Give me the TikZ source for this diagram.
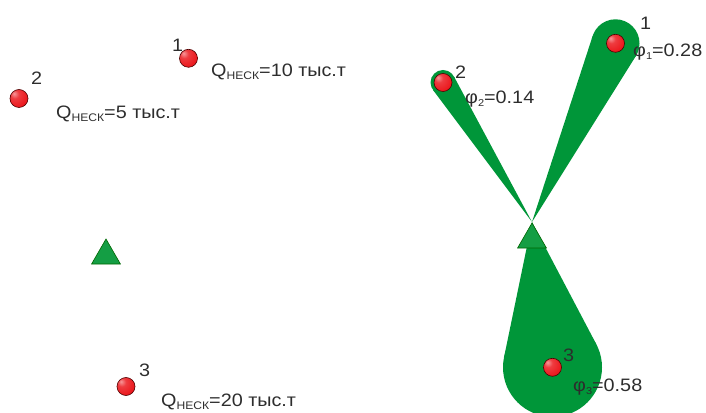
\documentclass[tikz,border=0pt]{standalone}
\usepackage{fontspec}
\setmainfont{Liberation Sans}[FakeStretch=1.1]
\usetikzlibrary{calc,shapes.geometric}

\definecolor{lobegreen}{RGB}{0,150,57}
\definecolor{trigreen}{RGB}{20,158,68}
\definecolor{ballred}{RGB}{235,25,30}
\definecolor{txtgray}{RGB}{45,45,45}

\pgfdeclareradialshading{redball}{\pgfpoint{-14bp}{14bp}}{%
  color(0bp)=(white!55!ballred); color(12bp)=(ballred!85!white);
  color(32bp)=(ballred); color(55bp)=(ballred!75!black);
  color(80bp)=(ballred!55!black)}

% Подпись Q с индексом
\newcommand{\qnesk}{Q\raisebox{-3pt}{\fontsize{11}{11}\selectfont НЕСК}}
\newcommand{\phisub}[1]{φ\raisebox{-3pt}{\fontsize{10}{10}\selectfont #1}}

\tikzset{
  ball/.style={circle, inner sep=0pt, minimum size=18pt, shading=redball,
    draw=black!70!red, line width=0.6pt},
  station/.style={regular polygon, regular polygon sides=3, inner sep=0pt,
    minimum size=33.4pt, fill=trigreen, draw=black!60!green, line width=0.6pt},
  lobe/.style={circle, inner sep=0pt, outer sep=0pt, fill=lobegreen},
  lbl/.style={anchor=base west, inner sep=0pt, text=txtgray,
    font=\fontsize{18}{18}\selectfont}
}

\begin{document}
\begin{tikzpicture}[x=1pt, y=1pt]
    \useasboundingbox (0,0) rectangle (706,412);
    \clip (0,0) rectangle (706,412);

    % Левая схема: запасы
    \node[station] (st) at (106,156.3) {};
    \node[ball] (a1) at (188.5,353.7) {};
    \node[ball] (a2) at (19,313.5) {};
    \node[ball] (a3) at (126,25.5) {};
    \node[lbl] (na1) at (172,360.3) {1};
    \node[lbl] (na2) at (31,327) {2};
    \node[lbl] (na3) at (139,35.3) {3};
    \node[lbl] (qa1) at (211,335.3) {\qnesk=10 тыс.т};
    \node[lbl] (qa2) at (56,293.3) {\qnesk=5 тыс.т};
    \node[lbl] (qa3) at (161,5.3) {\qnesk=20 тыс.т};

    % Правая схема: лепестки
    \coordinate (apex) at (532,190);
    \node[lobe, minimum size=48pt] (c1) at (615.5,368.7) {};
    \node[lobe, minimum size=25pt] (c2) at (443,329.5) {};
    \node[lobe, minimum size=99pt] (c3) at (552.5,44.7) {};
    \foreach \c in {c1,c2,c3}
      \fill[lobegreen] (apex) -- (tangent cs:node=\c,point={(apex)},solution=1)
        -- (tangent cs:node=\c,point={(apex)},solution=2) -- cycle;

    \node[station] (sr) at (532,172.3) {};
    \node[ball] (b1) at (615.5,368.7) {};
    \node[ball] (b2) at (443,329.5) {};
    \node[ball] (b3) at (552.5,44.7) {};
    \node[lbl] (nb1) at (640,382) {1};
    \node[lbl] (nb2) at (455,333.7) {2};
    \node[lbl] (nb3) at (563,50.3) {3};
    \node[lbl] (fb1) at (633,355.3) {\phisub{1}=0.28};
    \node[lbl] (fb2) at (465,308.7) {\phisub{2}=0.14};
    \node[lbl] (fb3) at (573,20.3) {\phisub{3}=0.58};

\end{tikzpicture}
\end{document}
